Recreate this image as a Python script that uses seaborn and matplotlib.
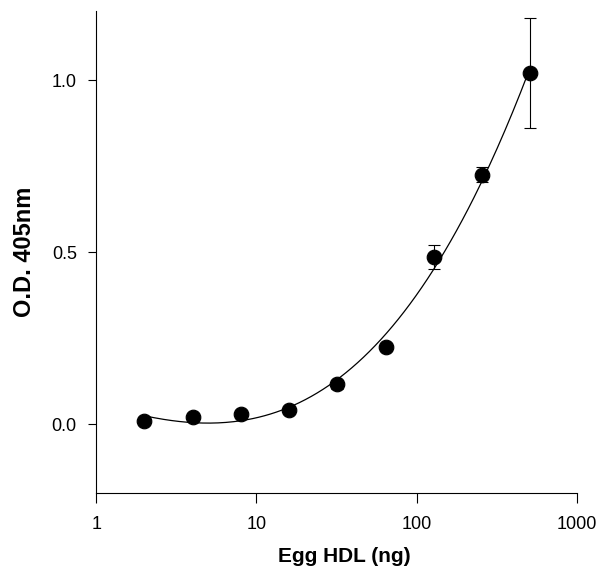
import numpy as np
import pandas as pd
import matplotlib
matplotlib.use("Agg")
import matplotlib.pyplot as plt
import seaborn as sns

# data
hdl_ng = [2, 4, 8, 16, 32, 64, 128, 256, 512]
od405 = [0.01, 0.02, 0.03, 0.04, 0.115, 0.225, 0.485, 0.725, 1.02]
od_err = [0.0, 0.0, 0.0, 0.0, 0.012, 0.0, 0.035, 0.022, 0.16]
x_ticks = [1, 10, 100, 1000]
y_ticks = [0.0, 0.5, 1.0]

sns.set_style("ticks")
plt.rcParams['font.family'] = ['Liberation Sans', 'DejaVu Sans']
for k in ['text.color', 'axes.labelcolor', 'xtick.color', 'ytick.color', 'axes.edgecolor']:
    plt.rcParams[k] = 'black'

df = pd.DataFrame({"hdl": hdl_ng, "od": od405, "err": od_err})

# smooth fit curve (cubic in log10 of amount)
coef = np.polyfit(np.log10(df["hdl"]), df["od"], 3)
xs = np.logspace(np.log10(hdl_ng[0]), np.log10(hdl_ng[-1]), 200)
fit = pd.DataFrame({"hdl": xs, "od": np.polyval(coef, np.log10(xs))})

fig = plt.figure(figsize=(6.09, 5.73), dpi=100)
ax = fig.add_axes([0.158, 0.14, 0.789, 0.84])

sns.lineplot(data=fit, x="hdl", y="od", color="black", linewidth=0.9, ax=ax)
ax.errorbar(df["hdl"], df["od"], yerr=df["err"], fmt="none", ecolor="black",
            elinewidth=0.8, capsize=4, capthick=0.8)
sns.scatterplot(data=df, x="hdl", y="od", color="black", s=110, edgecolor="black",
                zorder=5, ax=ax)

ax.set_xscale("log")
ax.set_xlim(1, 1000)
ax.set_ylim(-0.2, 1.2)
ax.set_xticks(x_ticks)
ax.set_xticklabels([str(t) for t in x_ticks])
ax.xaxis.set_minor_locator(matplotlib.ticker.NullLocator())
ax.set_yticks(y_ticks)
ax.set_yticklabels([f"{t:.1f}" for t in y_ticks])
ax.tick_params(axis="x", length=7, width=0.8, labelsize=13, pad=10)
ax.tick_params(axis="y", length=6, width=0.8, labelsize=13, pad=8)

ax.set_xlabel("Egg HDL (ng)", fontsize=15, fontweight="bold")
ax.set_ylabel("O.D. 405nm", fontsize=17, fontweight="bold")
ax.xaxis.set_label_coords(0.516, -0.112)
ax.yaxis.set_label_coords(-0.125, 0.5)

sns.despine(ax=ax)
for sp in ax.spines.values():
    sp.set_linewidth(0.8)

fig.savefig("out.png", dpi=100)
